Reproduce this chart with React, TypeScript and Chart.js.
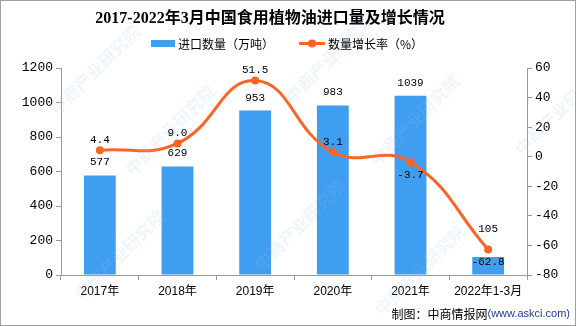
import React, { useEffect, useRef } from 'react';
import { Chart, registerables } from 'chart.js';

Chart.register(...registerables);

const categories = ['2017年', '2018年', '2019年', '2020年', '2021年', '2022年1-3月'];
const importVolume = [577, 629, 953, 983, 1039, 105];
const growthRate = [4.4, 9.0, 51.5, 3.1, -3.7, -62.8];
const volumeAxis = [0, 1200, 200];
const rateAxis = [-80, 60, 20];

const TITLE = '2017-2022年3月中国食用植物油进口量及增长情况';
const LEGEND_BAR = '进口数量（万吨）';
const LEGEND_LINE = '数量增长率（%）';
const FOOTER_A = '制图：中商情报网';
const FOOTER_B = '(www.askci.com)';

const BLUE = '#3f9ef0';
const ORANGE = '#fa6524';
const AXIS = '#9a9a9a';
const LABEL_FONT = "11px 'Liberation Mono', 'DejaVu Sans Mono', monospace";
const CJK = "'Noto Sans CJK SC'";

const W = 576;
const H = 326;

const decorPlugin = {
  id: 'decor',
  afterDatasetsDraw(chart: any) {
    const ctx = chart.ctx as CanvasRenderingContext2D;
    // faint watermark
    ctx.save();
    ctx.fillStyle = 'rgba(150,195,230,0.16)';
    ctx.font = `bold 17px ${CJK}`;
    ctx.textAlign = 'center';
    ctx.textBaseline = 'middle';
    const marks = [[95, 70], [330, 58], [170, 130], [415, 120], [120, 255], [300, 225], [420, 270], [560, 110]];
    for (const [x, y] of marks) {
      ctx.save();
      ctx.translate(x, y);
      ctx.rotate(-Math.PI / 4);
      ctx.fillText('中商产业研究院', 0, 0);
      ctx.restore();
    }
    ctx.restore();
  },
  afterDraw(chart: any) {
    const ctx = chart.ctx as CanvasRenderingContext2D;
    ctx.save();
    // title
    ctx.fillStyle = '#000';
    ctx.textAlign = 'center';
    ctx.textBaseline = 'middle';
    ctx.font = `bold 16px 'Liberation Serif', ${CJK}`;
    ctx.fillText(TITLE, 270, 19);

    // legend
    ctx.fillStyle = BLUE;
    ctx.fillRect(151, 40, 24, 7);
    ctx.fillStyle = '#000';
    ctx.textAlign = 'left';
    ctx.font = `12px ${CJK}`;
    ctx.fillText(LEGEND_BAR, 178, 44);
    ctx.strokeStyle = ORANGE;
    ctx.lineWidth = 3;
    ctx.beginPath();
    ctx.moveTo(299, 43.5);
    ctx.lineTo(325, 43.5);
    ctx.stroke();
    ctx.fillStyle = ORANGE;
    ctx.beginPath();
    ctx.arc(312, 43.5, 4, 0, Math.PI * 2);
    ctx.fill();
    ctx.fillStyle = '#000';
    ctx.fillText(LEGEND_LINE, 328, 44);

    // data labels
    const barMeta = chart.getDatasetMeta(0);
    const lineMeta = chart.getDatasetMeta(1);
    ctx.font = LABEL_FONT;
    ctx.textAlign = 'center';
    ctx.fillStyle = '#000';
    lineMeta.data.forEach((pt: any, i: number) => {
      const v = growthRate[i];
      const y = v >= 0 ? pt.y - 10 : pt.y + 13;
      ctx.fillText(v.toFixed(1), pt.x, y);
    });
    barMeta.data.forEach((bar: any, i: number) => {
      const pt = lineMeta.data[i];
      let y = bar.y - 13;
      if (Math.abs(pt.y - bar.y) < 15) y = pt.y - 20;
      ctx.fillText(String(importVolume[i]), bar.x, y);
    });

    // footer
    ctx.textAlign = 'left';
    ctx.font = "11px 'Liberation Sans', sans-serif";
    const wb = ctx.measureText(FOOTER_B).width;
    ctx.font = `12px ${CJK}`;
    const wa = ctx.measureText(FOOTER_A).width;
    const right = 570;
    ctx.fillStyle = '#000';
    ctx.fillText(FOOTER_A, right - wb - wa, 314);
    ctx.font = "11px 'Liberation Sans', sans-serif";
    ctx.fillStyle = '#1d3d8e';
    ctx.fillText(FOOTER_B, right - wb, 314);

    // border
    ctx.strokeStyle = '#a0a0a0';
    ctx.lineWidth = 1;
    ctx.strokeRect(0.5, 0.5, W - 1, H - 1);
    ctx.restore();
  },
};

export default function App() {
  const ref = useRef<HTMLCanvasElement | null>(null);

  useEffect(() => {
    document.body.style.margin = '0';
    const canvas = ref.current;
    if (!canvas) return;
    const chart = new Chart(canvas, {
      type: 'bar',
      data: {
        labels: categories,
        datasets: [
          {
            type: 'bar',
            label: LEGEND_BAR,
            data: importVolume,
            backgroundColor: BLUE,
            yAxisID: 'y',
            barPercentage: 0.41,
            categoryPercentage: 1,
            order: 2,
          },
          {
            type: 'line',
            label: LEGEND_LINE,
            data: growthRate,
            borderColor: ORANGE,
            backgroundColor: ORANGE,
            borderWidth: 3,
            pointRadius: 4,
            pointBackgroundColor: ORANGE,
            pointBorderWidth: 0,
            tension: 0.45,
            yAxisID: 'y1',
            order: 1,
          } as any,
        ],
      },
      options: {
        responsive: false,
        animation: false,
        devicePixelRatio: 1,
        layout: { padding: { top: 68, left: 0, right: 0, bottom: 0 } },
        plugins: {
          legend: { display: false },
          title: { display: false },
          tooltip: { enabled: false },
        },
        scales: {
          x: {
            offset: true,
            grid: { display: true, drawOnChartArea: false, tickLength: 5, color: AXIS, offset: true },
            border: { color: AXIS },
            ticks: {
              color: '#000',
              font: { family: "'Liberation Sans', 'Noto Sans CJK SC'", size: 12 },
              padding: 4,
              maxRotation: 0,
              autoSkip: false,
            },
            afterFit: (s: any) => { s.height = 51; },
          },
          y: {
            position: 'left',
            min: volumeAxis[0],
            max: volumeAxis[1],
            grid: { display: true, drawOnChartArea: false, tickLength: 5, color: AXIS },
            border: { color: AXIS },
            ticks: {
              stepSize: volumeAxis[2],
              color: '#000',
              padding: 3,
              font: { family: "'Liberation Mono', monospace", size: 13 },
              callback: (v: any) => String(v),
            },
            afterFit: (s: any) => { s.width = 61; },
          },
          y1: {
            position: 'right',
            min: rateAxis[0],
            max: rateAxis[1],
            grid: { display: true, drawOnChartArea: false, tickLength: 5, color: AXIS },
            border: { color: AXIS },
            ticks: {
              stepSize: rateAxis[2],
              color: '#000',
              padding: 3,
              font: { family: "'Liberation Mono', monospace", size: 13 },
              callback: (v: any) => String(v),
            },
            afterFit: (s: any) => { s.width = 49; },
          },
        },
      } as any,
      plugins: [decorPlugin],
    });
    return () => chart.destroy();
  }, []);

  return (
    <div style={{ position: 'absolute', left: 0, top: 0, width: W, height: H, background: '#fff' }}>
      <canvas ref={ref} width={W} height={H} style={{ width: W, height: H, display: 'block' }} />
    </div>
  );
}
